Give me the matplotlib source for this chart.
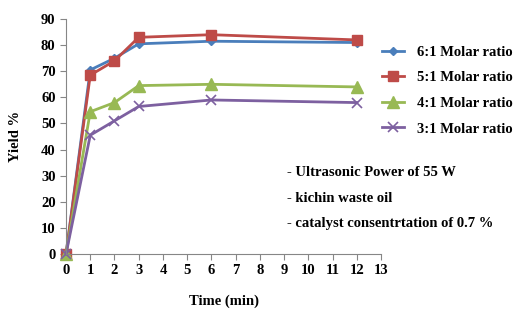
import matplotlib.pyplot as plt

time_min = [0, 1, 2, 3, 6, 12]
ratio_6 = [0, 70.5, 75, 80.5, 81.5, 81]
ratio_5 = [0, 68.5, 74, 83, 84, 82]
ratio_4 = [0, 54.5, 58, 64.5, 65, 64]
ratio_3 = [0, 45.5, 51, 56.5, 59, 58]
notes = ["- Ultrasonic Power of 55 W", "- kichin waste oil", "- catalyst consentrtation of 0.7 %"]

plt.rcParams["font.family"] = ["Liberation Serif", "DejaVu Serif"]
plt.rcParams["font.weight"] = "bold"

fig = plt.figure(figsize=(5.13, 3.10), dpi=100)
ax = fig.add_axes([0.1287, 0.1806, 0.614, 0.758])

kw = dict(lw=2, clip_on=False)
ax.plot(time_min, ratio_6, color="#4A7EBB", marker="D", ms=4.5, label="6:1 Molar ratio", **kw)
ax.plot(time_min, ratio_5, color="#BE4B48", marker="s", ms=7.5, label="5:1 Molar ratio", **kw)
ax.plot(time_min, ratio_4, color="#98B954", marker="^", ms=8, label="4:1 Molar ratio", **kw)
ax.plot(time_min, ratio_3, color="#7D60A0", marker="x", ms=7, mew=1.2, label="3:1 Molar ratio", **kw)

ax.set_xlim(0, 13)
ax.set_ylim(0, 90)
ax.set_xticks(range(0, 14))
ax.set_yticks(range(0, 91, 10))
for s in ["top", "right"]:
    ax.spines[s].set_visible(False)
for s in ["left", "bottom"]:
    ax.spines[s].set_color("#868686")
ax.tick_params(colors="#868686", labelcolor="black", labelsize=10.5, length=4)
ax.set_xlabel("Time (min)", fontsize=10.5, fontweight="bold", labelpad=12)
ax.set_ylabel("Yield %", fontsize=10.5, fontweight="bold", labelpad=14)

ax.legend(loc="upper left", bbox_to_anchor=(0.984, 0.912), frameon=False,
          fontsize=10.5, labelspacing=0.85, handlelength=1.5, handletextpad=0.9,
          borderaxespad=0)

for i, t in enumerate(notes):
    ax.text(0.70, 0.345 - i * 0.107, t, transform=ax.transAxes, fontsize=10.5,
            ha="left", va="center")

fig.savefig("out.png", dpi=100)
